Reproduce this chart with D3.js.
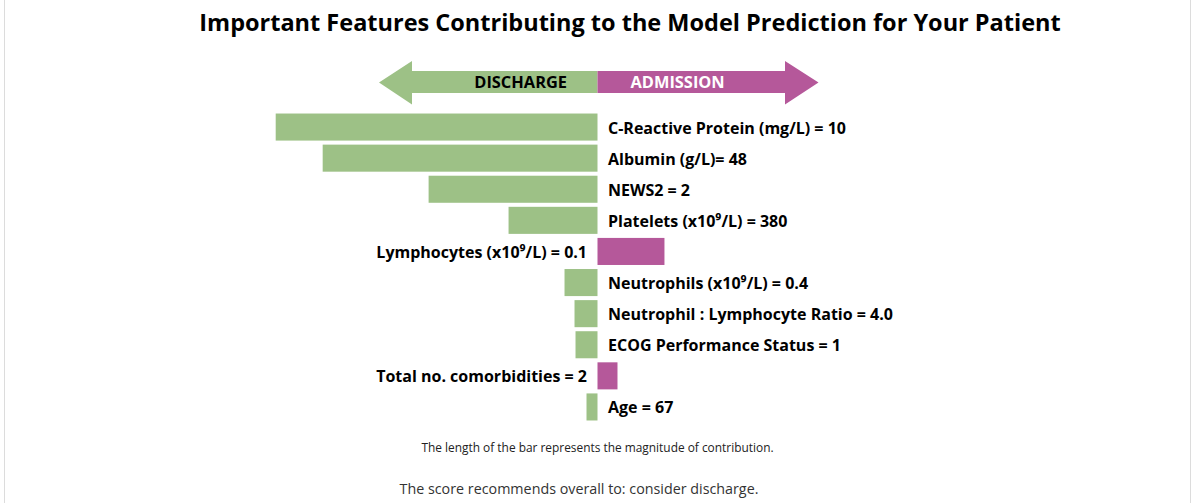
<!DOCTYPE html>
<html><head><meta charset="utf-8">
<script src="https://cdn.jsdelivr.net/npm/d3@7"></script>
<style>
html,body{margin:0;padding:0;background:#fff;}
svg{display:block;}
</style></head>
<body>
<svg id="chart" width="1196" height="503"></svg>
<script>
const features = [
  "C-Reactive Protein (mg/L) = 10",
  "Albumin (g/L)= 48",
  "NEWS2 = 2",
  "Platelets (x10⁹/L) = 380",
  "Lymphocytes (x10⁹/L) = 0.1",
  "Neutrophils (x10⁹/L) = 0.4",
  "Neutrophil : Lymphocyte Ratio = 4.0",
  "ECOG Performance Status = 1",
  "Total no. comorbidities = 2",
  "Age = 67"
];
const contributions = [-3.22, -2.75, -1.69, -0.89, 0.67, -0.33, -0.23, -0.22, 0.20, -0.11];
const directionLabels = ["DISCHARGE", "ADMISSION"];
const titleText = "Important Features Contributing to the Model Prediction for Your Patient";
const noteText = "The length of the bar represents the magnitude of contribution.";
const summaryText = "The score recommends overall to: consider discharge.";

const GREEN = "#9dc186", PINK = "#b5589a";
const FONT = "'Open Sans', 'Noto Sans', sans-serif";

const svg = d3.select("#chart");
// frame lines
svg.append("line").attr("x1",4.5).attr("x2",4.5).attr("y1",0).attr("y2",503).attr("stroke","#dcdcdc");
svg.append("line").attr("x1",1190.5).attr("x2",1190.5).attr("y1",0).attr("y2",503).attr("stroke","#dcdcdc");

const x = d3.scaleLinear().domain([-3.22, 0]).range([275.7, 597.5]);
const y = d3.scaleBand().domain(features).range([111.5, 422.5]).paddingInner(0.13).paddingOuter(0.065);
const x0 = x(0);

// title
svg.append("text").attr("x", 630).attr("y", 31).attr("text-anchor","middle")
  .attr("font-family", FONT).attr("font-weight", 700).attr("font-size", 23.5).attr("fill","#000")
  .text(titleText);

// direction arrow
const shaftTop = 71, shaftBot = 93, headTop = 61, headBot = 104.5, cy = 82.5;
const leftTip = 379, leftBase = 412, rightTip = 818.5, rightBase = 785;
svg.append("path").attr("fill", GREEN)
  .attr("d", `M${x0},${shaftTop}L${leftBase},${shaftTop}L${leftBase},${headTop}L${leftTip},${cy}L${leftBase},${headBot}L${leftBase},${shaftBot}L${x0},${shaftBot}Z`);
svg.append("path").attr("fill", PINK)
  .attr("d", `M${x0},${shaftTop}L${rightBase},${shaftTop}L${rightBase},${headTop}L${rightTip},${cy}L${rightBase},${headBot}L${rightBase},${shaftBot}L${x0},${shaftBot}Z`);
svg.append("text").attr("x", x0 - 30.5).attr("y", cy + 5.8).attr("text-anchor","end")
  .attr("font-family", FONT).attr("font-weight", 700).attr("font-size", 16.4).attr("fill","#000")
  .text(directionLabels[0]);
svg.append("text").attr("x", x0 + 33).attr("y", cy + 5.8).attr("text-anchor","start")
  .attr("font-family", FONT).attr("font-weight", 700).attr("font-size", 16.4).attr("fill","#fff")
  .text(directionLabels[1]);

// bars
const rows = features.map((f, i) => ({f, v: contributions[i]}));
svg.append("g").selectAll("rect").data(rows).join("rect")
  .attr("x", d => Math.min(x(d.v), x0))
  .attr("width", d => Math.abs(x(d.v) - x0))
  .attr("y", d => y(d.f))
  .attr("height", y.bandwidth())
  .attr("fill", d => d.v < 0 ? GREEN : PINK);

svg.append("g").selectAll("text").data(rows).join("text")
  .attr("x", d => d.v < 0 ? x0 + 10.5 : x0 - 10.5)
  .attr("y", d => y(d.f) + y.bandwidth()/2 + 6.5)
  .attr("text-anchor", d => d.v < 0 ? "start" : "end")
  .attr("font-family", FONT).attr("font-weight", 700).attr("font-size", 16).attr("fill","#000")
  .text(d => d.f);

svg.append("text").attr("x", 597.5).attr("y", 452).attr("text-anchor","middle")
  .attr("font-family", FONT).attr("font-size", 11.9).attr("fill","#222")
  .text(noteText);
svg.append("text").attr("x", 579).attr("y", 493.5).attr("text-anchor","middle")
  .attr("font-family", FONT).attr("font-size", 14.3).attr("fill","#333")
  .text(summaryText);
</script>
</body></html>
